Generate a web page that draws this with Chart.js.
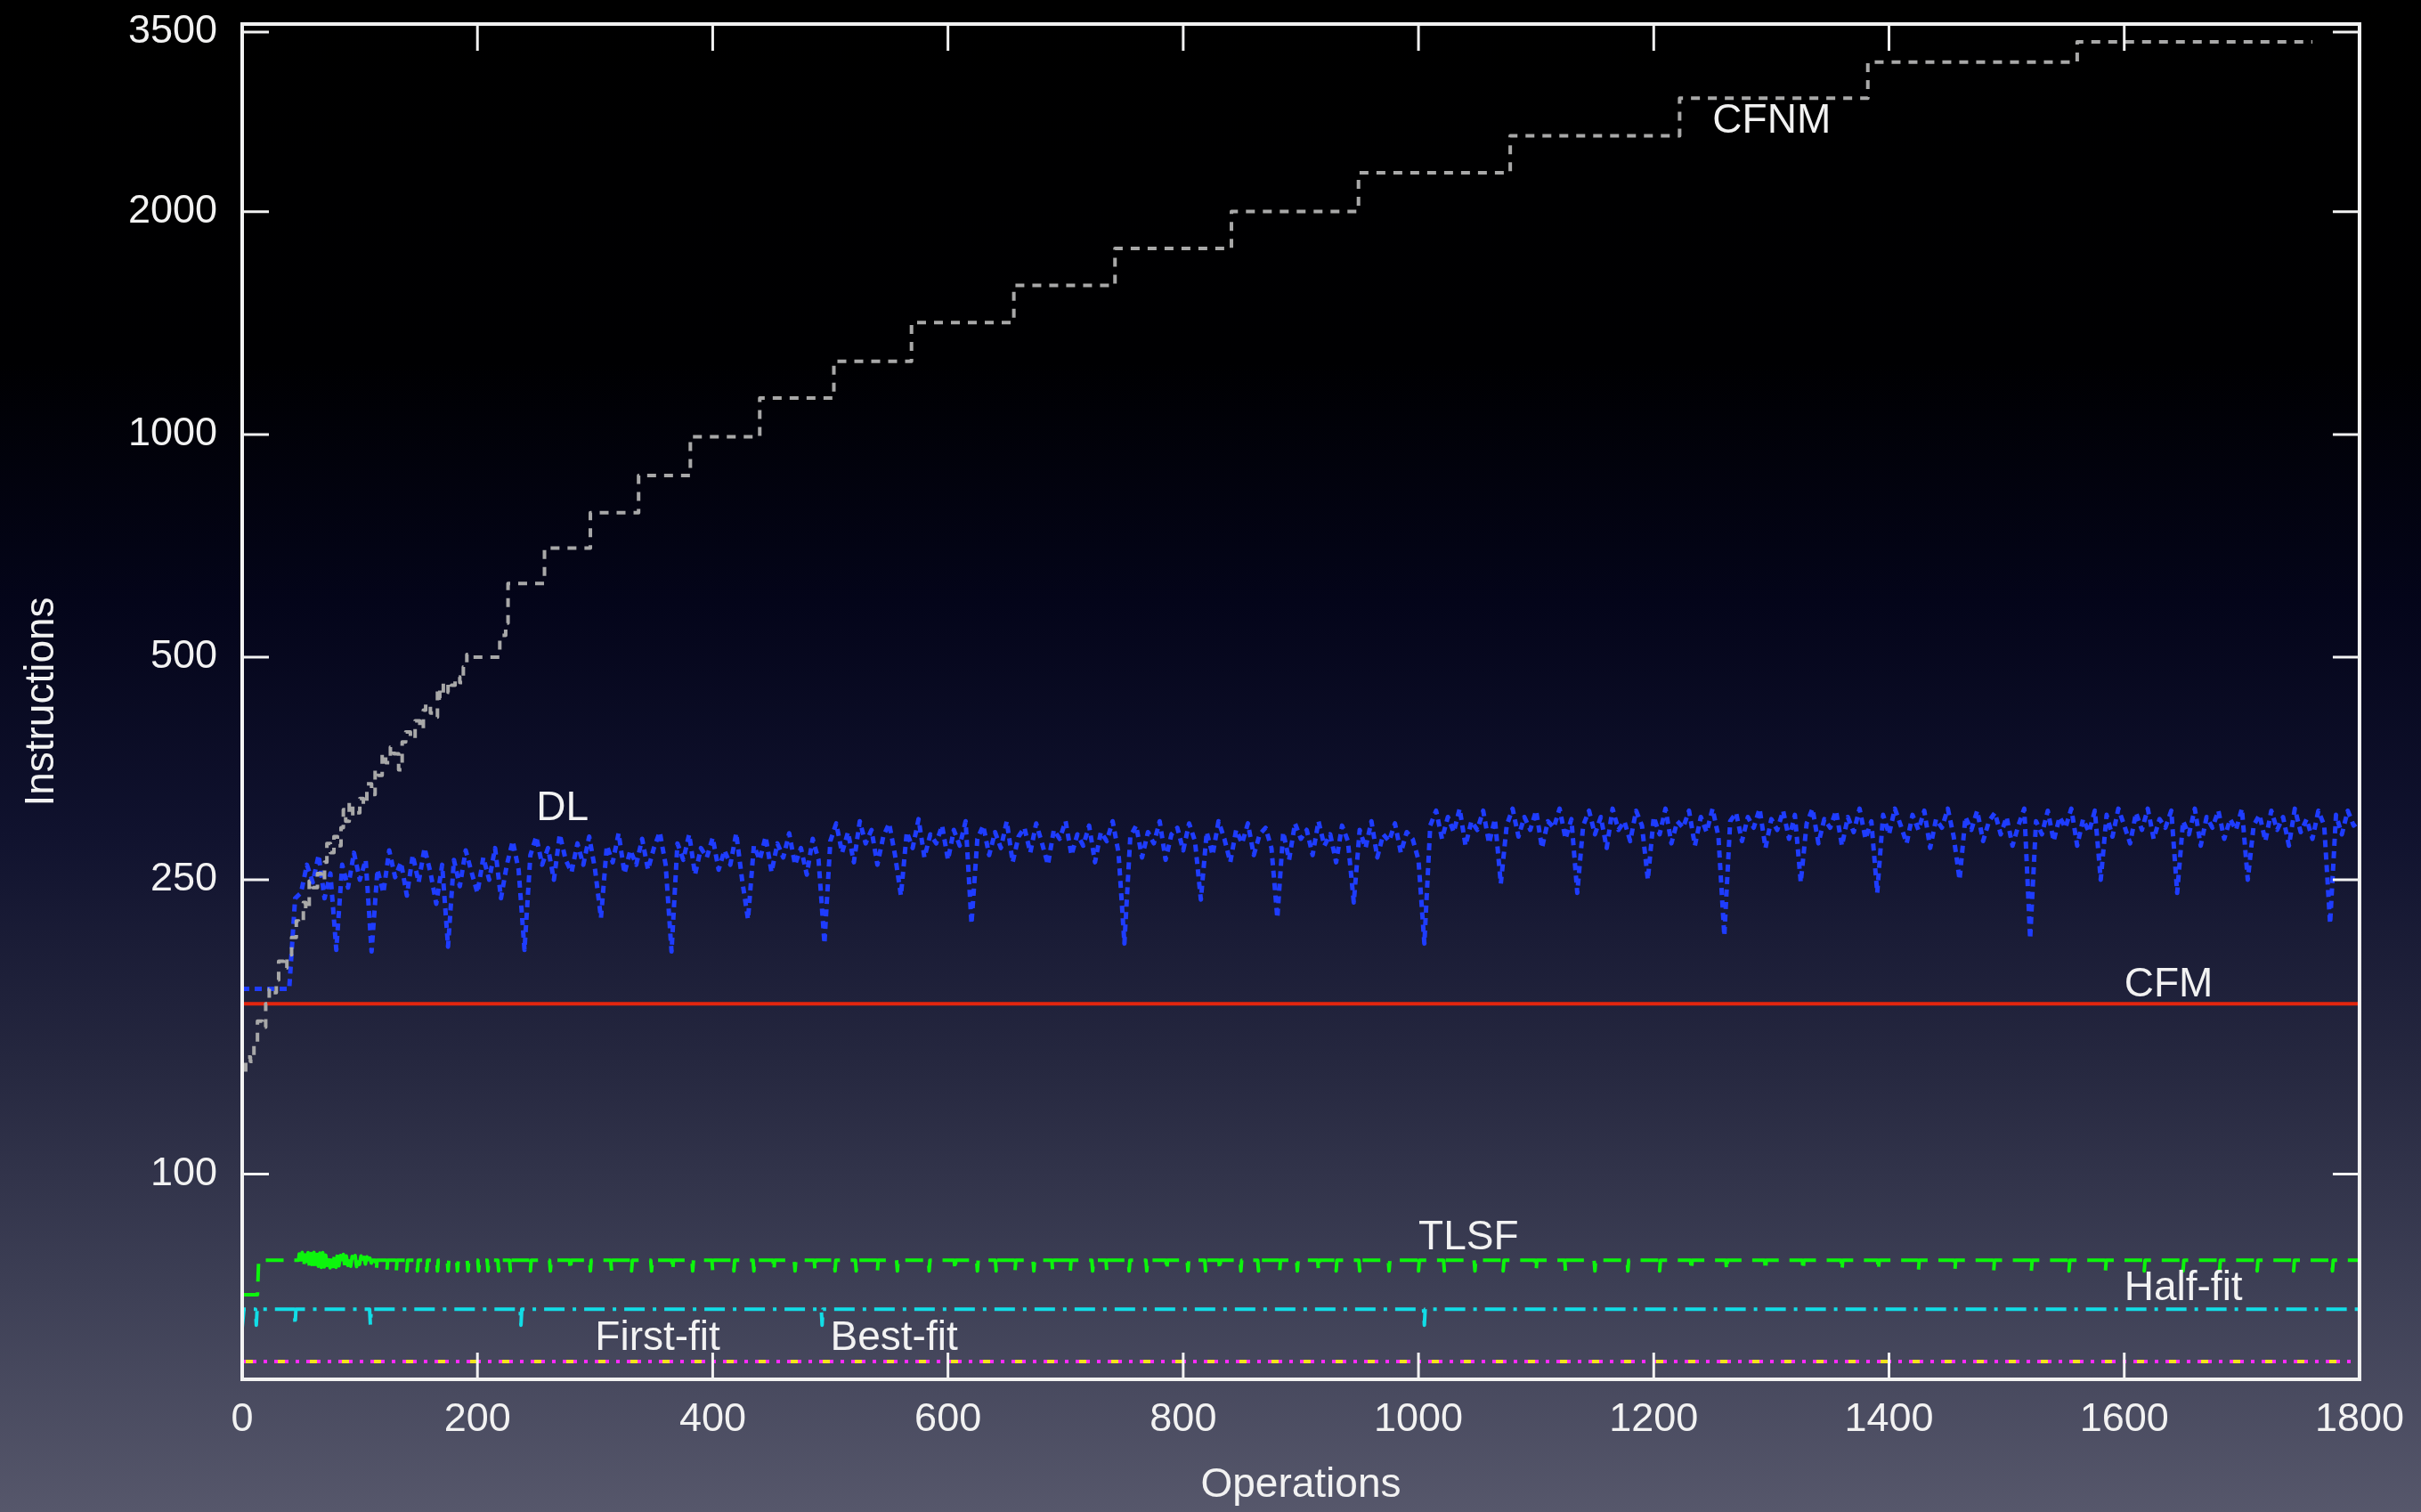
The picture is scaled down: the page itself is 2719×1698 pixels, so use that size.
<!DOCTYPE html>
<html>
<head>
<meta charset="utf-8">
<title>Instructions per operation</title>
<script src="https://cdn.jsdelivr.net/npm/chart.js@4.4.1/dist/chart.umd.min.js"></script>
<style>
    html, body { margin: 0; padding: 0; overflow: hidden; }
    body {
        width: 2719px;
        height: 1698px;
        background: linear-gradient(to bottom, #000000 0%, #000002 24%, #04051a 40%, #10122e 55%, #25273f 70%, #3d3f55 85%, #56576b 100%);
    }
    canvas { display: block; }
</style>
</head>
<body>
<canvas id="chart" width="2719" height="1698"></canvas>
<script>
// Axis ticks
const xTicks = [0, 200, 400, 600, 800, 1000, 1200, 1400, 1600, 1800];
const yTicks = [100, 250, 500, 1000, 2000, 3500];

// CFNM (stepped, grows with number of operations)
const cfnmOps = [0, 3, 7, 10, 13, 17, 20, 23, 26, 29, 31, 35, 38, 42, 46, 48, 52, 54, 57, 60,
    64, 67, 70, 72, 75, 78, 81, 84, 86, 88, 91, 94, 97, 100, 103, 106, 110, 113, 116, 119,
    122, 126, 129, 133, 136, 139, 143, 147, 151, 154, 156, 160, 163, 166, 168, 171, 175, 178, 181, 185,
    188, 191, 194, 198, 219, 224, 226, 257, 296, 337, 381, 440, 503, 569, 656, 742, 841, 949, 1078, 1222,
    1382, 1560, 1760];
const cfnmVals = [132, 136, 144, 142, 150, 161, 158, 170, 178, 176, 183, 194, 190, 198, 209, 220, 219, 233, 228, 249,
    244, 255, 250, 264, 280, 272, 286, 278, 294, 311, 300, 318, 305, 308, 322, 316, 337, 326, 352, 346,
    370, 360, 378, 370, 352, 384, 396, 388, 410, 400, 424, 432, 420, 415, 454, 440, 462, 448, 458, 470,
    462, 485, 504, 500, 500, 535, 556, 629, 702, 784, 880, 993, 1120, 1256, 1417, 1590, 1784, 2002, 2258, 2534,
    2848, 3188, 3395];

// DL, one value every 5 operations
const dlStep = 5;
const dlVals = [
    178, 178, 178, 178, 178, 178, 178, 178, 178, 236,
    240, 262, 248, 270, 236, 255, 201, 262, 244, 272,
    250, 266, 200, 258, 240, 274, 252, 264, 238, 270,
    248, 276, 256, 232, 262, 203, 266, 245, 274, 256,
    240, 268, 250, 276, 236, 262, 282, 258, 201, 270,
    286, 262, 276, 250, 288, 266, 256, 280, 262, 286,
    258, 222, 278, 264, 289, 255, 274, 262, 284, 258,
    276, 290, 262, 200, 280, 266, 288, 254, 276, 268,
    285, 258, 274, 262, 289, 250, 221, 278, 266, 286,
    256, 280, 268, 289, 262, 276, 254, 284, 266, 205,
    282, 298, 272, 290, 264, 300, 280, 292, 262, 286,
    298, 270, 238, 290, 276, 302, 268, 288, 280, 296,
    266, 292, 278, 300, 218, 284, 296, 270, 290, 276,
    300, 264, 286, 294, 272, 298, 280, 262, 292, 284,
    300, 270, 288, 278, 296, 264, 290, 282, 300, 272,
    205, 286, 296, 268, 290, 280, 300, 266, 288, 294,
    274, 298, 282, 235, 290, 270, 300, 284, 264, 292,
    280, 298, 270, 288, 294, 276, 222, 290, 266, 298,
    284, 292, 270, 300, 278, 288, 264, 296, 282, 233,
    292, 276, 300, 268, 288, 282, 298, 272, 290, 284,
    266, 205, 296, 310, 284, 304, 290, 312, 278, 300,
    292, 310, 280, 302, 247, 296, 312, 286, 304, 292,
    310, 276, 300, 294, 312, 284, 302, 240, 296, 310,
    288, 304, 276, 312, 292, 300, 282, 310, 296, 250,
    304, 288, 312, 280, 300, 294, 310, 278, 304, 290,
    312, 286, 210, 300, 308, 282, 304, 294, 312, 276,
    302, 292, 310, 284, 306, 248, 298, 312, 280, 302,
    294, 310, 278, 304, 290, 312, 284, 300, 240, 306,
    288, 312, 296, 280, 306, 292, 310, 276, 302, 294,
    312, 286, 250, 304, 292, 310, 282, 300, 308, 288,
    304, 278, 296, 312, 208, 300, 288, 310, 282, 304,
    294, 312, 278, 302, 290, 310, 250, 306, 286, 312,
    296, 280, 308, 292, 312, 284, 302, 294, 310, 240,
    300, 288, 312, 278, 304, 294, 310, 284, 302, 292,
    312, 250, 296, 306, 282, 310, 292, 304, 278, 312,
    290, 302, 284, 310, 296, 218, 306, 288, 310, 296,
    300
];

// CFM (constant)
const cfmOps = [0, 1800];
const cfmVals = [170, 170];

// TLSF
const tlsfHeadOps = [0, 13, 14, 48];
const tlsfHeadVals = [68.7, 68.7, 76.5, 76.5];
const tlsfNoiseStart = 48.5;
const tlsfNoiseStep = 1.25;
const tlsfNoiseVals = [78.0, 75.0, 78.4, 74.7, 77.8, 75.2, 78.3, 74.8, 78.1, 75.0,
    78.4, 74.6, 77.9, 75.1, 78.2, 74.8, 78.3, 74.9, 77.7, 75.3,
    78.1, 74.7, 78.2, 75.0, 77.9, 74.8, 78.0, 75.2, 77.6, 75.0,
    77.9, 74.9, 77.5, 75.3, 77.8, 75.1, 77.4, 75.4, 77.6, 75.0,
    77.3, 75.5, 77.5, 75.2, 77.2, 75.6, 77.3, 75.4, 77.0, 75.8];
const tlsfLevel = 76.5;
const tlsfDipVal = 74;
const tlsfDipOps = [114, 123, 131, 140, 149, 157, 166, 175, 183, 192, 201, 209, 218, 228,
    245, 262, 279, 296, 314, 331, 348, 366, 383, 400, 418, 435, 452, 470, 487, 504, 522, 540, 557,
    584, 606, 625, 641, 657, 673, 689, 704, 723, 735, 754, 769, 786, 804, 819, 831, 849, 864, 882, 897, 915, 930,
    950, 975, 1000, 1022, 1048, 1072, 1100, 1125, 1150, 1178, 1205, 1232, 1262, 1295, 1327, 1360, 1391,
    1425, 1456, 1489, 1521, 1553, 1584, 1617, 1650, 1681, 1713, 1744, 1777];

// Half-fit
const halfFitStart = 62;
const halfFitLevel = 65.7;
const halfFitDipVal = 62.5;
const halfFitDipOps = [12, 45, 109, 237, 493, 1005];

// First-fit / Best-fit (constant, overlapping)
const firstFitOps = [0, 1800];
const firstFitVals = [55.8, 55.8];
const bestFitOps = [0, 1800];
const bestFitVals = [55.8, 55.8];

// In-plot labels
const labelText = ['CFNM', 'DL', 'CFM', 'TLSF', 'Half-fit', 'First-fit', 'Best-fit'];
const labelOps = [1250, 250, 1600, 1000, 1600, 300, 500];
const labelVals = [2650, 312, 180, 82, 70, 60, 60];

const textColor = '#f2f2f2';
const fontFamily = '"Liberation Sans", Arial, Helvetica, sans-serif';

function zip(xs, ys) {
    return xs.map((x, i) => ({ x: x, y: ys[i] }));
}

function buildTlsf() {
    const pts = zip(tlsfHeadOps, tlsfHeadVals);
    tlsfNoiseVals.forEach((v, i) => pts.push({ x: tlsfNoiseStart + i * tlsfNoiseStep, y: v }));
    pts.push({ x: 111, y: tlsfLevel });
    tlsfDipOps.forEach(d => {
        pts.push({ x: d - 0.7, y: tlsfLevel });
        pts.push({ x: d, y: tlsfDipVal });
        pts.push({ x: d + 0.7, y: tlsfLevel });
    });
    pts.push({ x: 1800, y: tlsfLevel });
    return pts;
}

function buildHalfFit() {
    const pts = [{ x: 0, y: halfFitStart }, { x: 1.5, y: halfFitLevel }];
    halfFitDipOps.forEach(d => {
        pts.push({ x: d - 0.7, y: halfFitLevel });
        pts.push({ x: d, y: halfFitDipVal });
        pts.push({ x: d + 0.7, y: halfFitLevel });
    });
    pts.push({ x: 1800, y: halfFitLevel });
    return pts;
}

const framePlugin = {
    id: 'gnuplotFrame',
    afterDraw(chart) {
        const { ctx, chartArea: a, scales } = chart;
        const xs = scales.x, ys = scales.y;
        const tickLen = 30;
        ctx.save();
        ctx.strokeStyle = textColor;
        ctx.lineWidth = 3;
        ctx.beginPath();
        xTicks.forEach(v => {
            const px = xs.getPixelForValue(v);
            ctx.moveTo(px, a.bottom); ctx.lineTo(px, a.bottom - tickLen);
            ctx.moveTo(px, a.top); ctx.lineTo(px, a.top + tickLen);
        });
        yTicks.forEach(v => {
            const py = ys.getPixelForValue(v);
            ctx.moveTo(a.left, py); ctx.lineTo(a.left + tickLen, py);
            ctx.moveTo(a.right, py); ctx.lineTo(a.right - tickLen, py);
        });
        ctx.stroke();
        ctx.lineWidth = 4;
        ctx.strokeRect(a.left, a.top, a.right - a.left, a.bottom - a.top);

        ctx.fillStyle = textColor;
        ctx.font = '46px ' + fontFamily;
        ctx.textAlign = 'left';
        ctx.textBaseline = 'middle';
        labelText.forEach((t, i) => {
            ctx.fillText(t, xs.getPixelForValue(labelOps[i]), ys.getPixelForValue(labelVals[i]));
        });
        ctx.restore();
    }
};

const lineDefaults = { pointRadius: 0, tension: 0, fill: false, borderWidth: 4, borderJoinStyle: 'round' };

const datasets = [
    Object.assign({}, lineDefaults, {
        label: 'CFNM', data: zip(cfnmOps, cfnmVals), stepped: 'after',
        borderColor: '#a8a8a8', borderDash: [10, 9]
    }),
    Object.assign({}, lineDefaults, {
        label: 'CFM', data: zip(cfmOps, cfmVals),
        borderColor: '#e3260f'
    }),
    Object.assign({}, lineDefaults, {
        label: 'DL', data: dlVals.map((v, i) => ({ x: i * dlStep, y: v })),
        borderColor: '#1e3cff', borderDash: [8, 6], borderWidth: 5
    }),
    Object.assign({}, lineDefaults, {
        label: 'TLSF', data: buildTlsf(),
        borderColor: '#0cf50c', borderDash: [20, 12]
    }),
    Object.assign({}, lineDefaults, {
        label: 'Half-fit', data: buildHalfFit(),
        borderColor: '#12dde6', borderDash: [23, 9, 4, 9]
    }),
    Object.assign({}, lineDefaults, {
        label: 'Best-fit', data: zip(bestFitOps, bestFitVals),
        borderColor: '#f2e41a', borderDash: [8, 28], borderDashOffset: -4
    }),
    Object.assign({}, lineDefaults, {
        label: 'First-fit', data: zip(firstFitOps, firstFitVals),
        borderColor: '#ff2cff', borderDash: [16, 8, 4, 8]
    })
];

Chart.defaults.font.family = fontFamily;

new Chart(document.getElementById('chart'), {
    type: 'line',
    data: { datasets: datasets },
    options: {
        responsive: false,
        animation: false,
        devicePixelRatio: 1,
        layout: { padding: { top: 0, right: 69, left: 0, bottom: 0 } },
        plugins: { legend: { display: false }, tooltip: { enabled: false } },
        scales: {
            x: {
                type: 'linear', min: 0, max: 1800,
                afterFit: s => { s.height = 149; },
                afterBuildTicks: s => { s.ticks = xTicks.map(v => ({ value: v })); },
                grid: { display: false, drawTicks: false },
                border: { display: false },
                ticks: {
                    color: textColor, font: { size: 45 }, padding: 19,
                    maxRotation: 0, autoSkip: false,
                    callback: v => String(v)
                },
                title: {
                    display: true, text: 'Operations', color: textColor,
                    font: { size: 46 }, padding: { top: 0, bottom: 2 }
                }
            },
            y: {
                type: 'logarithmic', min: 52.8, max: 3588,
                afterFit: s => { s.width = 272; s.paddingTop = 27; s.paddingBottom = 0; },
                afterBuildTicks: s => { s.ticks = yTicks.map(v => ({ value: v })); },
                grid: { display: false, drawTicks: false },
                border: { display: false },
                ticks: {
                    color: textColor, font: { size: 45 }, padding: 28,
                    autoSkip: false,
                    callback: v => String(v)
                },
                title: {
                    display: true, text: 'Instructions', color: textColor,
                    font: { size: 46 }, padding: { top: 20, bottom: 0 }
                }
            }
        }
    },
    plugins: [framePlugin]
});
</script>
</body>
</html>
